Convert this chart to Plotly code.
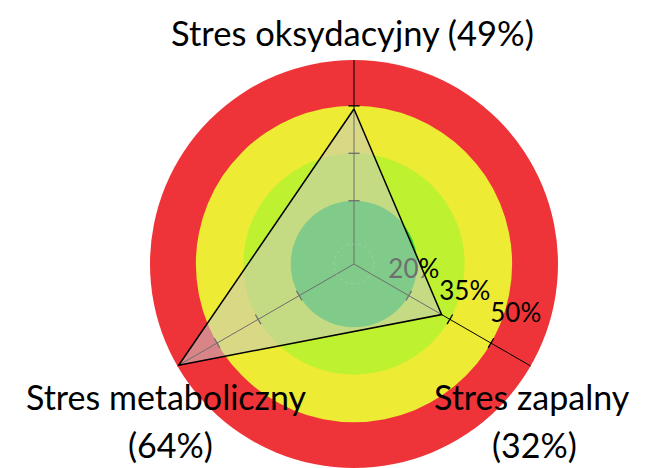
import plotly.graph_objects as go

# ---- data ----
categories = ["Stres oksydacyjny", "Stres zapalny", "Stres metaboliczny"]
values = [49, 32, 64]
band_limits = [20, 35, 50]          # green / lime / yellow upper limits (red beyond)
tick_labels = ["20%", "35%", "50%"]
r_max = 64.5
inner_grid = [6.3]                  # faint dotted gridline near the centre

band_colors = ["rgb(238,235,52)", "rgb(190,242,48)", "rgb(40,205,62)"]
red_color = "rgb(238,52,56)"
FONT = "Lato"

W, H = 654, 460          # page shows the figure offset by the 8px body margin
CX, CY, R = 346, 256, 204
dom_x = [(CX - R) / W, (CX + R) / W]
dom_y = [0, 2 * R / H]

# separate axis used only for the percentage labels (as placed in the original)
LCX, LCY, LR, l_max = 298.3, 261.5, 192, 52
lab_dom_x = [(LCX - LR) / W, (LCX + LR) / W]
lab_dom_y = [(H - LCY - LR) / H, (H - LCY + LR) / H]

fig = go.Figure()

# background bands (largest first, overlaid)
for lim, col in zip(sorted(band_limits, reverse=True), band_colors):
    fig.add_trace(go.Barpolar(r=[lim], theta=[0], width=[360], base=0,
                              marker=dict(color=col, line=dict(width=0)),
                              subplot="polar", hoverinfo="skip", showlegend=False))

# invisible anchor trace so the label axis is drawn
fig.add_trace(go.Scatterpolar(r=band_limits, theta=[0] * len(band_limits), mode="markers",
                              marker=dict(opacity=0), subplot="polar2",
                              hoverinfo="skip", showlegend=False))

# tick marks on every spoke
tick_r, tick_t, tick_a = [], [], []
for i, c in enumerate(categories):
    for lim in band_limits:
        tick_r.append(lim)
        tick_t.append(c)
        tick_a.append([0, -60, 60][i])
fig.add_trace(go.Scatterpolar(r=tick_r, theta=tick_t, mode="markers", subplot="polar3",
                              marker=dict(symbol="line-ew", size=8, angle=tick_a,
                                          line=dict(color="black", width=1.3)),
                              hoverinfo="skip", showlegend=False))

# data polygon
fig.add_trace(go.Scatterpolar(r=values + values[:1], theta=categories + categories[:1],
                              mode="lines", fill="toself",
                              fillcolor="rgba(200,200,200,0.55)",
                              line=dict(color="black", width=1.5),
                              subplot="polar3", showlegend=False))

fig.update_layout(
    width=W, height=H,
    margin=dict(l=0, r=0, t=0, b=0),
    paper_bgcolor="white",
    showlegend=False,
    polar=dict(
        domain=dict(x=dom_x, y=dom_y),
        bgcolor=red_color,
        barmode="overlay",
        radialaxis=dict(range=[0, r_max], visible=False),
        angularaxis=dict(visible=False),
    ),
    polar2=dict(
        domain=dict(x=lab_dom_x, y=lab_dom_y),
        bgcolor="rgba(0,0,0,0)",
        angularaxis=dict(visible=False),
        radialaxis=dict(range=[0, l_max], angle=-23, showgrid=False, showline=False,
                        tickvals=band_limits, ticktext=tick_labels,
                        side="counterclockwise", tickangle=-23,
                        ticks="outside", ticklen=12, tickcolor="rgba(0,0,0,0)",
                        tickfont=dict(family=FONT, size=26, color="black")),
    ),
    polar3=dict(
        domain=dict(x=dom_x, y=dom_y),
        bgcolor="rgba(0,0,0,0)",
        angularaxis=dict(type="category", categoryarray=categories, rotation=90,
                         direction="clockwise", showgrid=True, gridcolor="black",
                         gridwidth=1.3, showline=False, showticklabels=False,
                         ticks="", layer="below traces"),
        radialaxis=dict(range=[0, r_max], showline=False, tickvals=inner_grid,
                        showgrid=True, gridcolor="rgba(255,255,255,0.25)",
                        griddash="dot", gridwidth=1,
                        showticklabels=False, ticks=""),
    ),
)

# category labels: (name centre x, name y, value centre x, value y) in figure pixels
name_pos = [(345, 24), (523.5, 388.5), (158, 388.5)]
value_pos = [None, (526.5, 436.5), (162.8, 436.5)]
for i, (c, v) in enumerate(zip(categories, values)):
    if i == 0:
        items = [(f"{c} ({v}%)", name_pos[0], 34.5)]
    else:
        items = [(c, name_pos[i], 34), (f"({v}%)", value_pos[i], 34)]
    for txt, (px, py), fs in items:
        fig.add_annotation(x=px / W, y=1 - py / H, xref="paper", yref="paper",
                           text=txt, showarrow=False, xanchor="center", yanchor="middle",
                           font=dict(family=FONT, size=fs, color="black"))

fig.write_html("out.html")
